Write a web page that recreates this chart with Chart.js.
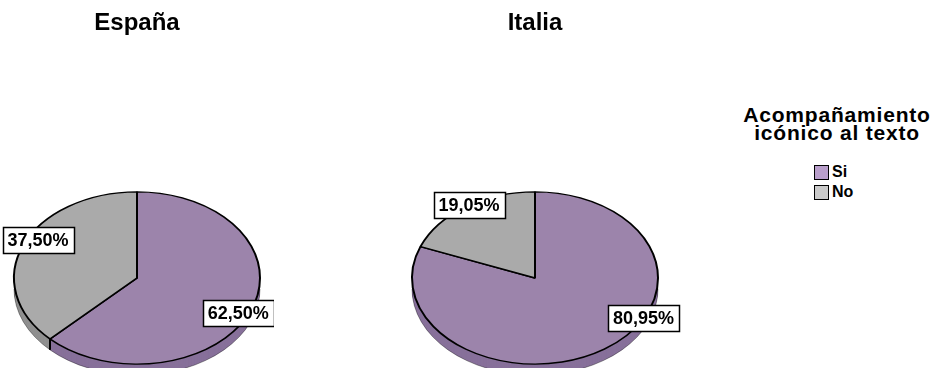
<!DOCTYPE html>
<html>
<head>
<meta charset="utf-8">
<script src="https://cdn.jsdelivr.net/npm/chart.js@4.4.1/dist/chart.umd.min.js"></script>
<style>
html,body{margin:0;padding:0;background:#fff;overflow:hidden;width:934px;height:368px;}
#wrap{position:relative;width:934px;height:368px;}
canvas{position:absolute;top:0;}
#legend{position:absolute;left:737px;top:106px;width:200px;font-family:"Liberation Sans",Arial,sans-serif;font-weight:bold;color:#000;}
#legend .lt{font-size:21px;line-height:18px;letter-spacing:0.8px;text-align:center;}
#legend .items{margin-left:77px;margin-top:20px;}
#legend .it{display:flex;align-items:center;height:20px;font-size:16px;}
#legend .sw{width:13px;height:13px;border:1px solid #000;margin-right:3px;box-sizing:content-box;}
</style>
</head>
<body>
<div id="wrap">
  <canvas id="c1" width="274" height="368" style="left:0px"></canvas>
  <canvas id="c2" width="310" height="368" style="left:380px"></canvas>
  <div id="legend"></div>
</div>
<script>
// ---- data ----
const categories = ['Si', 'No'];
const countries = ['España', 'Italia'];
const espana = [62.5, 37.5];
const italia = [80.95, 19.05];
const legendTitle = ['Acompañamiento', 'icónico al texto'];

// ---- styles ----
const topColors = ['#9c84ab', '#aaaaaa'];
const sideColors = ['#87709a', '#909090'];
const legendColors = ['#b99fcb', '#cacaca'];
const FONT = '"Liberation Sans", Arial, sans-serif';

const pie3d = {
  id: 'pie3d',
  beforeDatasetsDraw(chart, args, opts) {
    const ctx = chart.ctx;
    const meta = chart.getDatasetMeta(0);
    const k = opts.tilt, depth = opts.depth;
    const a0 = meta.data[0];
    const cx = a0.x, cy = a0.y, r = a0.outerRadius;
    for (let d = depth; d >= 1; d--) {
      meta.data.forEach((arc, i) => {
        ctx.save();
        ctx.translate(cx, cy + d);
        ctx.scale(1, k);
        ctx.beginPath();
        ctx.moveTo(0, 0);
        ctx.arc(0, 0, arc.outerRadius, arc.startAngle, arc.endAngle);
        ctx.closePath();
        ctx.fillStyle = opts.sideColors[i];
        ctx.fill();
        ctx.restore();
      });
    }
    ctx.save();
    ctx.translate(cx, cy + depth);
    ctx.scale(1, k);
    ctx.beginPath();
    ctx.arc(0, 0, r, 0, Math.PI);
    ctx.restore();
    ctx.strokeStyle = 'rgba(0,0,0,0.35)';
    ctx.lineWidth = 1;
    ctx.stroke();
    meta.data.forEach(arc => {
      const a = arc.startAngle;
      if (Math.sin(a) > 0.02) {
        const x = cx + r * Math.cos(a), y = cy + r * k * Math.sin(a);
        ctx.beginPath();
        ctx.moveTo(x, y);
        ctx.lineTo(x, y + depth);
        ctx.strokeStyle = '#000';
        ctx.lineWidth = 2;
        ctx.stroke();
      }
    });
    ctx.save();
    ctx.translate(cx, cy);
    ctx.scale(1, k);
    ctx.translate(-cx, -cy);
  },
  afterDatasetsDraw(chart, args, opts) {
    const ctx = chart.ctx;
    ctx.restore();
    const meta = chart.getDatasetMeta(0);
    const ds = chart.data.datasets[0];
    const k = opts.tilt;
    ctx.font = 'bold 18px ' + FONT;
    ctx.textAlign = 'center';
    ctx.textBaseline = 'middle';
    meta.data.forEach((arc, i) => {
      let ang = (arc.startAngle + arc.endAngle) / 2;
      if (opts.angles && opts.angles[i] != null) ang = opts.angles[i] * Math.PI / 180;
      const f = opts.radial;
      const x = arc.x + arc.outerRadius * f * Math.cos(ang);
      const y = arc.y + arc.outerRadius * k * f * Math.sin(ang);
      const txt = ds.data[i].toFixed(2).replace('.', ',') + '%';
      const w = Math.round(ctx.measureText(txt).width + 10), h = 26;
      const bx = Math.round(x - w / 2) + 0.5, by = Math.round(y - h / 2) + 0.5;
      ctx.fillStyle = '#fff';
      ctx.fillRect(bx, by, w, h);
      ctx.strokeStyle = '#000';
      ctx.lineWidth = 1.5;
      ctx.strokeRect(bx, by, w, h);
      ctx.fillStyle = '#000';
      ctx.fillText(txt, x, y + 1);
    });
  }
};

function makePie(id, title, values, angles, radial) {
  return new Chart(document.getElementById(id), {
    type: 'pie',
    data: {
      labels: categories,
      datasets: [{
        data: values,
        backgroundColor: topColors,
        borderColor: '#000',
        borderWidth: 2,
        radius: 123,
        clip: false
      }]
    },
    options: {
      responsive: false,
      animation: false,
      events: [],
      layout: { padding: 0 },
      plugins: {
        legend: { display: false },
        tooltip: { enabled: false },
        title: {
          display: true,
          text: title,
          color: '#000',
          font: { family: FONT, size: 24, weight: 'bold' },
          padding: { top: 9, bottom: 150.2 }
        },
        pie3d: { tilt: 0.7, depth: 11, sideColors: sideColors, radial: radial, angles: angles }
      }
    },
    plugins: [pie3d]
  });
}

makePie('c1', countries[0], espana, [26.6, 209], 0.92);
makePie('c2', countries[1], italia, [28, 237.6], 1.0);

const lg = document.getElementById('legend');
let html = '<div class="lt">' + legendTitle.join('<br>') + '</div><div class="items">';
categories.forEach((c, i) => {
  html += '<div class="it"><span class="sw" style="background:' + legendColors[i] + '"></span>' + c + '</div>';
});
html += '</div>';
lg.innerHTML = html;
</script>
</body>
</html>
